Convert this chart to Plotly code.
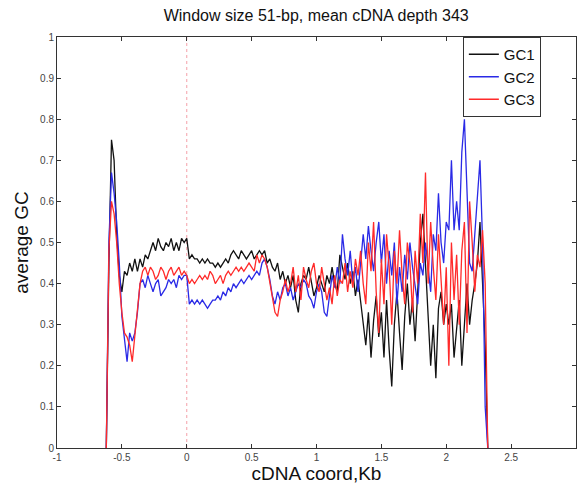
import numpy as np
import plotly.graph_objects as go

# x grid (Kb), 0.02 step from -0.62 to 2.32
coord_kb = np.round(np.arange(-0.62, 2.3201, 0.02), 2)

gc1 = [0.0, 0.45, 0.75, 0.70, 0.52, 0.42, 0.38, 0.43, 0.42, 0.45,
       0.43, 0.46, 0.43, 0.46, 0.44, 0.47, 0.46, 0.48, 0.50, 0.48,
       0.51, 0.49, 0.48, 0.50, 0.49, 0.51, 0.48, 0.50, 0.48, 0.51,
       0.50, 0.51, 0.46, 0.47, 0.46, 0.46, 0.45, 0.46, 0.45, 0.46,
       0.45, 0.45, 0.44, 0.45, 0.44, 0.45, 0.46, 0.45, 0.47, 0.48,
       0.47, 0.46, 0.48, 0.47, 0.46, 0.47, 0.48, 0.46, 0.47, 0.48,
       0.47, 0.48, 0.45, 0.46, 0.44, 0.43, 0.45, 0.41, 0.43, 0.40,
       0.42, 0.39, 0.42, 0.36, 0.33, 0.40, 0.42, 0.41, 0.44, 0.40,
       0.37, 0.39, 0.42, 0.40, 0.38, 0.42, 0.40, 0.44, 0.40, 0.38,
       0.47, 0.44, 0.41, 0.45, 0.40, 0.43, 0.37, 0.41, 0.36, 0.30,
       0.25, 0.33, 0.22, 0.31, 0.37, 0.27, 0.33, 0.22, 0.36, 0.24,
       0.15, 0.30, 0.38, 0.28, 0.19, 0.32, 0.40, 0.30, 0.36, 0.26,
       0.40, 0.50, 0.57, 0.45, 0.35, 0.20, 0.30, 0.17, 0.34, 0.38,
       0.30, 0.35, 0.30, 0.35, 0.22, 0.30, 0.36, 0.20, 0.30, 0.40,
       0.30, 0.36, 0.40, 0.45, 0.55, 0.40, 0.25, 0.0]

gc2 = [0.0, 0.50, 0.67, 0.62, 0.55, 0.45, 0.32, 0.26, 0.21, 0.28,
       0.26, 0.28, 0.33, 0.40, 0.41, 0.39, 0.42, 0.40, 0.38, 0.40,
       0.41, 0.37, 0.38, 0.39, 0.41, 0.40, 0.41, 0.39, 0.42, 0.41,
       0.42, 0.42, 0.35, 0.36, 0.35, 0.36, 0.35, 0.36, 0.35, 0.34,
       0.35, 0.36, 0.36, 0.37, 0.36, 0.38, 0.37, 0.39, 0.38, 0.40,
       0.39, 0.40, 0.41, 0.40, 0.41, 0.42, 0.41, 0.42, 0.43, 0.42,
       0.45, 0.46, 0.44, 0.41, 0.37, 0.35, 0.38, 0.36, 0.39, 0.40,
       0.37, 0.39, 0.36, 0.38, 0.40, 0.39, 0.41, 0.40, 0.37, 0.36,
       0.34, 0.38, 0.40, 0.38, 0.33, 0.32, 0.37, 0.42, 0.39, 0.44,
       0.40, 0.52, 0.46, 0.42, 0.48, 0.40, 0.44, 0.38, 0.45, 0.52,
       0.46, 0.54, 0.48, 0.43, 0.50, 0.55, 0.45, 0.52, 0.40, 0.48,
       0.42, 0.50, 0.35, 0.44, 0.38, 0.47, 0.41, 0.50, 0.44, 0.40,
       0.35, 0.45, 0.42, 0.50, 0.44, 0.38, 0.52, 0.48, 0.62, 0.50,
       0.45, 0.55, 0.53, 0.70, 0.53, 0.60, 0.53, 0.72, 0.80, 0.60,
       0.45, 0.43, 0.52, 0.60, 0.70, 0.50, 0.10, 0.0]

gc3 = [0.0, 0.48, 0.60, 0.57, 0.50, 0.40, 0.33, 0.28, 0.27, 0.25,
       0.21, 0.27, 0.33, 0.40, 0.43, 0.44, 0.42, 0.44, 0.43, 0.41,
       0.42, 0.44, 0.43, 0.41, 0.43, 0.44, 0.42, 0.43, 0.44, 0.42,
       0.43, 0.42, 0.40, 0.41, 0.40, 0.41, 0.42, 0.41, 0.42, 0.41,
       0.43, 0.42, 0.40, 0.41, 0.42, 0.40, 0.42, 0.43, 0.42, 0.43,
       0.44, 0.43, 0.44, 0.43, 0.44, 0.45, 0.44, 0.43, 0.47, 0.45,
       0.47, 0.46, 0.44, 0.40, 0.37, 0.33, 0.32, 0.36, 0.38, 0.41,
       0.38, 0.40, 0.44, 0.38, 0.42, 0.36, 0.44, 0.41, 0.39, 0.43,
       0.45, 0.40, 0.38, 0.44, 0.40, 0.36, 0.39, 0.35, 0.42, 0.37,
       0.41, 0.40, 0.45, 0.38, 0.43, 0.39, 0.46, 0.42, 0.48, 0.40,
       0.35, 0.50, 0.43, 0.55, 0.38, 0.28, 0.46, 0.35, 0.52, 0.44,
       0.30, 0.48, 0.40, 0.53, 0.42, 0.35, 0.50, 0.45, 0.33, 0.48,
       0.40, 0.57, 0.45, 0.67, 0.40, 0.55, 0.44, 0.36, 0.52, 0.40,
       0.30, 0.44, 0.20, 0.50, 0.36, 0.47, 0.30, 0.48, 0.55, 0.28,
       0.60, 0.50, 0.38, 0.47, 0.44, 0.53, 0.40, 0.0]

series_names = ["GC1", "GC2", "GC3"]
series_colors = ["#111111", "#2a2ae6", "#ff2a2a"]
x_tick_vals = [-1, -0.5, 0, 0.5, 1, 1.5, 2, 2.5]
x_tick_text = ["-1", "-0.5", "0", "0.5", "1", "1.5", "2", "2.5"]
y_tick_vals = [0, 0.1, 0.2, 0.3, 0.4, 0.5, 0.6, 0.7, 0.8, 0.9, 1]
y_tick_text = ["0", "0.1", "0.2", "0.3", "0.4", "0.5", "0.6", "0.7", "0.8", "0.9", "1"]

fig = go.Figure()

# dotted reference line at x = 0
fig.add_trace(go.Scatter(x=[0, 0], y=[0, 1], mode="lines",
                         line=dict(color="#f4a0a8", width=1, dash="dot"),
                         showlegend=False, hoverinfo="skip"))

for name, vals, col in zip(series_names, [gc1, gc2, gc3], series_colors):
    fig.add_trace(go.Scatter(x=coord_kb, y=vals, mode="lines", name=name,
                             line=dict(color=col, width=1.3)))

axis_common = dict(showline=True, linecolor="#333333", linewidth=1, mirror="ticks",
                   ticks="inside", ticklen=4, tickcolor="#333333", showgrid=False,
                   zeroline=False, automargin=False,
                   tickfont=dict(family="Arial, Liberation Sans", size=10, color="#444444"))

fig.update_layout(
    width=577, height=486,
    margin=dict(l=57, r=1, t=37, b=38, autoexpand=False),
    paper_bgcolor="white", plot_bgcolor="white",
    title=dict(text="Window size 51-bp, mean cDNA depth 343", x=0.548, xanchor="center",
               y=0.969, yanchor="middle",
               font=dict(family="Arial, Liberation Sans", size=16, color="#111111")),
    xaxis=dict(range=[-1, 3], tickvals=x_tick_vals, ticktext=x_tick_text,
               title=dict(text="cDNA coord,Kb", standoff=2,
                          font=dict(family="Arial, Liberation Sans", size=19, color="#111111")),
               **axis_common),
    yaxis=dict(range=[0, 1], tickvals=y_tick_vals, ticktext=y_tick_text,
               title=dict(text="average GC", standoff=6,
                          font=dict(family="Arial, Liberation Sans", size=19, color="#111111")),
               **axis_common),
    legend=dict(x=0.782, y=1, xanchor="left", yanchor="top", bgcolor="white",
                bordercolor="#333333", borderwidth=1,
                font=dict(family="Arial, Liberation Sans", size=15, color="#111111"),
                tracegroupgap=0, itemwidth=30),
    showlegend=True,
)

fig.write_html("out.html", config={"displayModeBar": False},
               post_script="document.body.style.margin='0px';document.body.style.overflow='hidden';")
